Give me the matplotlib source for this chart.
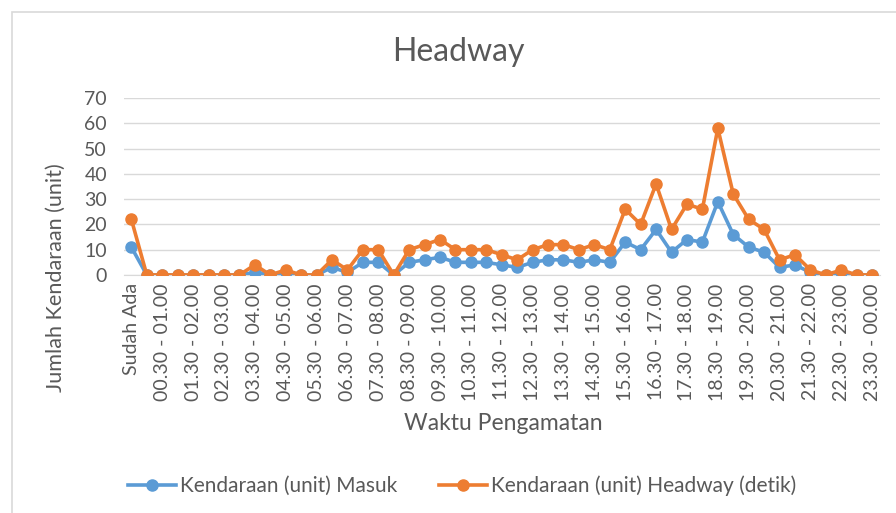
import numpy as np
import matplotlib.pyplot as plt
from matplotlib.patches import Rectangle

# Label waktu: "Sudah Ada" lalu 48 slot setengah jam
waktu = ["Sudah Ada"]
for h in range(24):
    h2 = (h + 1) % 24
    waktu.append(f"{h:02d}.00 - {h:02d}.30")
    waktu.append(f"{h:02d}.30 - {h2:02d}.00")

# Data yang dibaca dari grafik
masuk = [11, 0, 0, 0, 0, 0, 0, 0, 1, 0, 1, 0, 0, 3, 1, 5, 5, 0, 5, 6,
         7, 5, 5, 5, 4, 3, 5, 6, 6, 5, 6, 5, 13, 10, 18, 9, 14, 13, 29, 16,
         11, 9, 3, 4, 1, 0, 1, 0, 0]
headway = [22, 0, 0, 0, 0, 0, 0, 0, 4, 0, 2, 0, 0, 6, 2, 10, 10, 0, 10, 12,
           14, 10, 10, 10, 8, 6, 10, 12, 12, 10, 12, 10, 26, 20, 36, 18, 28, 26, 58, 32,
           22, 18, 6, 8, 2, 0, 2, 0, 0]

plt.rcParams['font.family'] = ['Lato', 'DejaVu Sans']
abu = '#595959'

fig = plt.figure(figsize=(8.96, 5.13), dpi=100)
ax = fig.add_axes([0.138, 0.464, 0.844, 0.345])

x = np.arange(len(waktu))
ax.plot(x, masuk, color='#5B9BD5', lw=2.6, marker='o', ms=8, label='Kendaraan (unit) Masuk', zorder=3)
ax.plot(x, headway, color='#ED7D31', lw=2.6, marker='o', ms=8,
        label='Kendaraan (unit) Headway (detik)', zorder=4)

ax.set_xlim(-0.5, len(waktu) - 0.5)
ax.set_ylim(0, 70)
ax.set_yticks(range(0, 71, 10))
ax.yaxis.grid(True, color='#D9D9D9', lw=1)
ax.set_axisbelow(True)
for s in ['top', 'right', 'left']:
    ax.spines[s].set_visible(False)
ax.spines['bottom'].set_color('#D9D9D9')
ax.tick_params(length=0, colors=abu, labelsize=14)
ax.tick_params(axis='x', pad=6)
ax.tick_params(axis='y', pad=12)

ax.set_xticks(x[::2])
ax.set_xticklabels(waktu[::2], rotation=90, fontsize=14)

# Judul dan label sumbu
fig.text(458 / 896, 1 - 52 / 513, 'Headway', fontsize=23, color=abu, ha='center', va='center')
fig.text(56 / 896, 1 - 278 / 513, 'Jumlah Kendaraan (unit)', fontsize=15.6, color=abu,
         rotation=90, ha='center', va='center')
fig.text(503 / 896, 1 - 423 / 513, 'Waktu Pengamatan', fontsize=16.5, color=abu,
         ha='center', va='center')

fig.legend(loc='center', bbox_to_anchor=(462 / 896, 0.053), ncol=2, frameon=False,
           fontsize=15, labelcolor=abu, handlelength=2.3, handletextpad=0.2,
           columnspacing=2.0)

fig.patches.append(Rectangle((12 / 896, -0.1), 1.2, 1 - 12 / 513 + 0.1,
                             transform=fig.transFigure, fill=False,
                             edgecolor='#D9D9D9', lw=1.2))

fig.savefig('out.png', dpi=100)
